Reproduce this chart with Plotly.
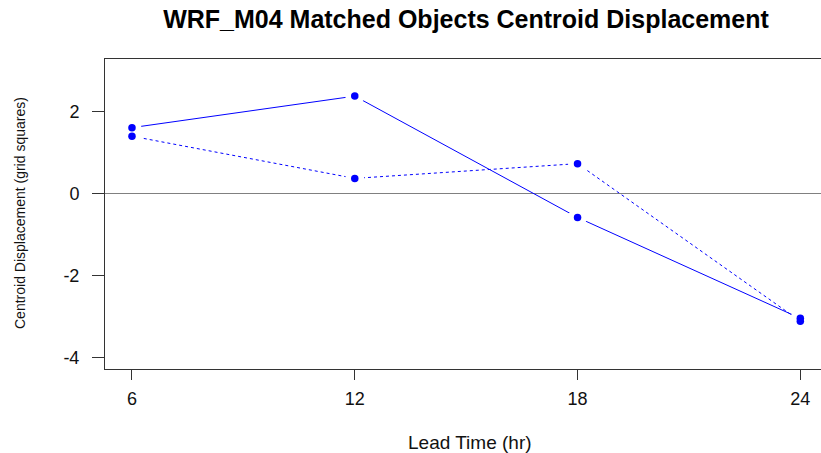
import plotly.graph_objects as go

lead_time = [6, 12, 18, 24]
solid_series = [1.61, 2.38, -0.585, -3.05]
dotted_series = [1.40, 0.37, 0.73, -3.12]
x_ticks = [6, 12, 18, 24]
y_ticks = [-4, -2, 0, 2]

title_text = "WRF_M04 Matched Objects Centroid Displacement"
x_title = "Lead Time (hr)"
y_title = "Centroid Displacement (grid squares)"

W, H = 821, 453
L, T, B, R = 105, 59, 84, 0
FONT = "Liberation Sans, Arial, sans-serif"
BLUE = "#0000FF"
FRAME = "#333333"

fig = go.Figure()

# lines
fig.add_trace(go.Scatter(x=lead_time, y=solid_series, mode="lines",
                         line=dict(color=BLUE, width=1, dash="solid"),
                         hoverinfo="skip", showlegend=False))
fig.add_trace(go.Scatter(x=lead_time, y=dotted_series, mode="lines",
                         line=dict(color=BLUE, width=1, dash="dot"),
                         hoverinfo="skip", showlegend=False))
# white gaps around points (type="b" look)
for ys in (solid_series, dotted_series):
    fig.add_trace(go.Scatter(x=lead_time, y=ys, mode="markers",
                             marker=dict(color="white", size=19, line=dict(width=0)),
                             hoverinfo="skip", showlegend=False))
# points
for ys in (solid_series, dotted_series):
    fig.add_trace(go.Scatter(x=lead_time, y=ys, mode="markers",
                             marker=dict(color=BLUE, size=7.5, line=dict(width=0)),
                             showlegend=False))

fig.update_layout(
    width=W, height=H,
    margin=dict(l=L, r=R, t=T, b=B, pad=0),
    paper_bgcolor="white", plot_bgcolor="white",
    font=dict(family=FONT, color="#000000"),
    title=dict(text=title_text, font=dict(family=FONT, size=25, color="black", weight="bold"),
               xref="container", x=466 / W, xanchor="center",
               yref="container", y=1 - 19 / H, yanchor="middle"),
    xaxis=dict(range=[5.273, 24.557], tickvals=x_ticks, ticktext=[str(v) for v in x_ticks],
               showgrid=False, zeroline=False, showline=True, mirror=True,
               linecolor=FRAME, linewidth=1, ticks="outside", ticklen=10,
               tickcolor=FRAME, tickwidth=1,
               tickfont=dict(family=FONT, size=18, color="#111111"), ticklabelstandoff=3),
    yaxis=dict(range=[-4.288, 3.287], tickvals=y_ticks, ticktext=[str(v) for v in y_ticks],
               showgrid=False, zeroline=True, zerolinecolor="#808080", zerolinewidth=1,
               showline=True, mirror=False,
               linecolor=FRAME, linewidth=1, ticks="outside", ticklen=12,
               tickcolor=FRAME, tickwidth=1,
               tickfont=dict(family=FONT, size=18, color="#111111"), ticklabelstandoff=9),
    annotations=[
        dict(text=x_title, xref="paper", yref="paper", x=(470 - L) / (W - L - R), y=0,
             xanchor="center", yanchor="middle", yshift=-(442 - (H - B)), showarrow=False,
             font=dict(family=FONT, size=19, color="#111111")),
        dict(text=y_title, xref="paper", yref="paper", x=0, y=(H - B - 213) / (H - B - T),
             xanchor="center", yanchor="middle", xshift=-(L - 20), textangle=-90,
             showarrow=False, font=dict(family=FONT, size=14, color="#111111")),
    ],
)

fig.write_html("out.html")
